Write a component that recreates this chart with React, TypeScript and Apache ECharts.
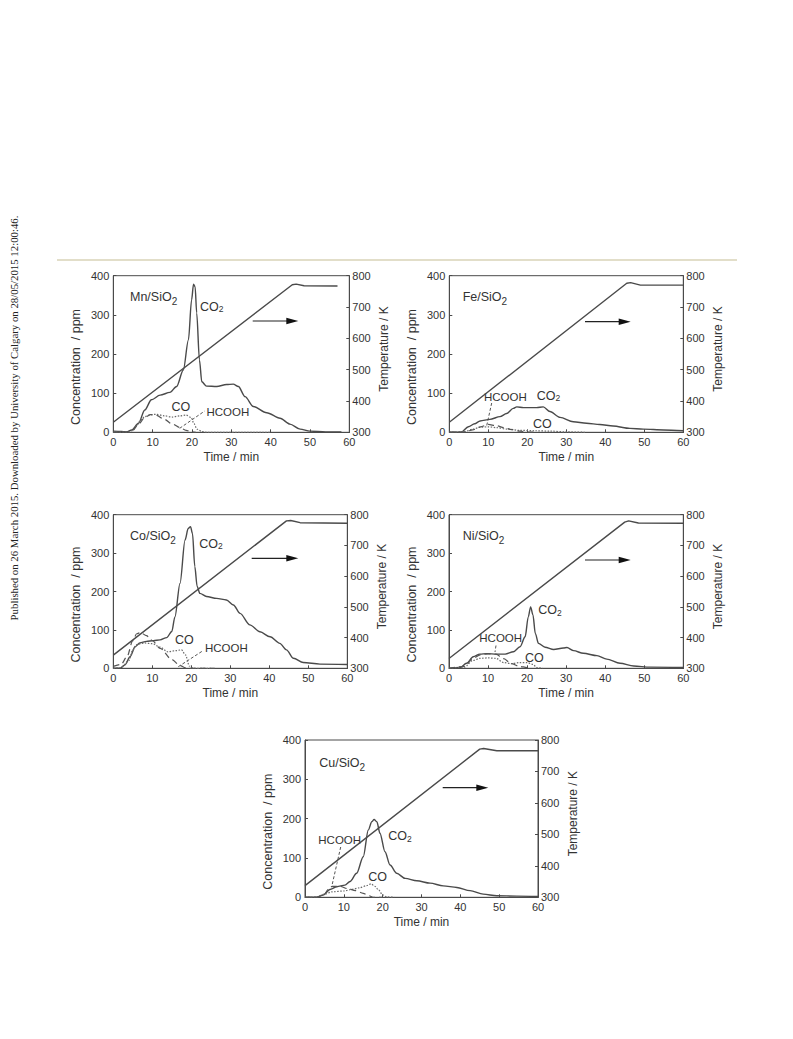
import React, { useEffect, useRef } from "react";
import * as echarts from "echarts";

// ---------- data (time / min, value) ----------
const mnCO2 = [[0,3],[2,2],[3.4,1],[4.7,6],[6.4,23],[8,57],[9.7,83],[11.9,95],[14.4,102],[16.1,117],[17.8,159],[19.1,236],[19.9,338],[20.4,378],[20.8,372],[21.2,305],[21.9,185],[22.5,129],[23.7,118],[26.3,117],[28.8,122],[30.5,123],[31.8,117],[33.5,91],[35.6,66],[39,50],[42.4,36],[44.9,21],[47.5,8],[50,3],[54,1],[58,1]];
const mnCO = [[0,0],[4,1],[5,5],[6,18],[7,32],[8,40],[9.5,45],[11,46],[13,42],[15,39],[17,42],[18.5,44],[19.8,38],[20.5,22],[21.3,8],[22.5,2],[24,0],[40,0]];
const mnHCOOH = [[0,0],[4,1],[5,6],[6.5,22],[8,38],[9.5,45],[11,43],[13,33],[15,21],[17,12],[18.5,5],[20,1],[21,0]];
const mnTemp = [[0,332],[45.5,771],[46.5,773],[48.5,768],[57,767]];

const feCO2 = [[0,0],[3,0],[4.9,14],[6.5,22],[7.9,29],[10.4,33],[13,40],[14.7,48],[16.4,61],[17.3,65],[19,63],[22.4,63],[24.1,65],[25.8,53],[28.4,38],[31.8,27],[35.2,23],[38.6,20],[42,16],[46.3,10],[49.7,8],[55,6],[60,4]];
const feCO = [[0,0],[4,2],[6,8],[8,13],[10,14],[12,12],[15,8],[18,5],[22,4],[26,3],[30,1],[35,0]];
const feHCOOH = [[0,0],[4,1],[6,6],[8,14],[10,20],[12,17],[14,12],[16,7],[18,3],[20,1],[22,0]];
const feTemp = [[0,332],[45.5,776],[46.5,778],[49,770],[60,770]];

const coCO2 = [[0,0],[1.7,0],[3,9],[4.3,30],[5.6,56],[6.8,66],[8.5,70],[10.3,72],[12,74],[13.7,80],[15,96],[15.8,134],[17.1,221],[18.4,334],[19.2,364],[19.8,369],[20.3,351],[20.9,265],[21.5,213],[22.2,195],[23.9,187],[26.5,182],[29,178],[30.8,165],[32.5,143],[35,113],[37.6,95],[40.2,82],[42.7,65],[44.4,48],[46.2,26],[48.7,15],[53,11],[60,10]];
const coCO = [[0,0],[2,2],[4,20],[5,48],[6,62],[8,66],[10,64],[12,55],[14,43],[16,46],[17.5,48],[18.5,35],[19.5,6],[20.5,0],[25,0]];
const coHCOOH = [[0,5],[2,10],[3.5,30],[5,72],[6,90],[7,93],[8.5,85],[10,72],[12,52],[15,23],[17,8],[18.5,1],[19.5,0],[26,0]];
const coTemp = [[0,343],[44.4,780],[45.5,781],[47.9,774],[60,772]];

const niCO2 = [[0,0],[2.8,2],[4.5,13],[6.2,30],[7.9,37],[9.7,38],[12.2,37],[14.4,37],[16.5,43],[18.2,56],[19.5,82],[20.3,134],[20.9,160],[21.5,139],[22.1,91],[22.9,65],[24.6,55],[26.8,49],[29.3,53],[30.2,54],[31.9,46],[34.4,39],[37.9,33],[40.4,24],[43.8,13],[47.3,6],[51.5,3],[60,2]];
const niCO = [[0,0],[4,3],[6,20],[8,26],[10,27],[12,26],[14,15],[16,12],[18,15],[20,15],[21.5,10],[22.5,2],[24,0]];
const niHCOOH = [[0,0],[4,5],[6,25],[8,35],[10,38],[12,37],[14,25],[16,12],[18,5],[20,2],[21,0]];
const niTemp = [[0,332],[45,776],[46,780],[48.5,773],[60,772]];

const cuCO2 = [[0,0],[3,0],[4.7,6],[6.4,20],[8.2,27],[10.3,31],[11.6,40],[13.3,61],[15,103],[16.3,171],[17.2,192],[17.8,198],[18.5,192],[19.3,163],[20.6,116],[21.9,82],[23.6,61],[25.8,48],[28.8,42],[32.2,36],[35.6,29],[39.1,25],[42.5,17],[45.9,8],[49.4,4],[54.5,3],[60,2]];
const cuCO = [[0,0],[3,1],[5,8],[7,14],[10,16],[12,20],[14,24],[16,30],[17,34],[18,28],[19,18],[20,6],[21,1],[23,0]];
const cuHCOOH = [[0,0],[3,0],[5,8],[6,20],[7,28],[9,28],[11,22],[13,17],[15,10],[16.5,4],[17.5,0],[20,0]];
const cuTemp = [[0,337],[45,771],[46,773],[49.4,766],[60,766]];

const catalysts = ["Mn", "Fe", "Co", "Ni", "Cu"];
const xTitle = "Time / min";
const yLeftTitle = "Concentration  / ppm";
const yRightTitle = "Temperature / K";
const sideNote = "Published on 26 March 2015. Downloaded by University of Calgary on 28/05/2015 12:00:46.";

// ---------- layout ----------
const FONT = "'Liberation Sans', Arial, Helvetica, sans-serif";
const INK = "#4a4a4a";
const TXT = "#333";

type Pt = [number, number];
interface Panel {
  name: string;
  grid: [number, number, number, number];
  co2: number[][]; co: number[][]; hcooh: number[][]; temp: number[][];
  cat: Pt; co2Lbl: Pt; coLbl: Pt; hLbl: Pt;
  arrow: [number, number, number];
  leader: [number, number, number, number];
}

const panels: Panel[] = [
  { name: catalysts[0], grid: [113.3, 275.7, 236, 156.6], co2: mnCO2, co: mnCO, hcooh: mnHCOOH, temp: mnTemp,
    cat: [130, 297], co2Lbl: [200, 307], coLbl: [171.5, 407], hLbl: [206.5, 412], arrow: [252.7, 298.3, 321], leader: [179.7, 428.3, 204.7, 411] },
  { name: catalysts[1], grid: [449.3, 275.7, 234, 156.6], co2: feCO2, co: feCO, hcooh: feHCOOH, temp: feTemp,
    cat: [462.7, 297], co2Lbl: [536.7, 396], coLbl: [533, 424], hLbl: [484, 397], arrow: [585, 630.7, 321.7], leader: [491.7, 403, 486.7, 425.7] },
  { name: catalysts[2], grid: [113.3, 514.7, 234, 153.6], co2: coCO2, co: coCO, hcooh: coHCOOH, temp: coTemp,
    cat: [130, 536.7], co2Lbl: [199.3, 544], coLbl: [175, 640], hLbl: [205, 648], arrow: [251.7, 298.3, 558.3], leader: [178.3, 666.7, 203.3, 650.5] },
  { name: catalysts[3], grid: [449, 514.7, 234.3, 153.6], co2: niCO2, co: niCO, hcooh: niHCOOH, temp: niTemp,
    cat: [462.7, 536.7], co2Lbl: [538.3, 610.8], coLbl: [525, 658.3], hLbl: [479.3, 638.3], arrow: [585, 630.7, 560], leader: [496, 645.5, 495, 652] },
  { name: catalysts[4], grid: [305, 740, 233, 157.3], co2: cuCO2, co: cuCO, hcooh: cuHCOOH, temp: cuTemp,
    cat: [319.3, 763.3], co2Lbl: [388.3, 836.7], coLbl: [368.3, 876.7], hLbl: [318.3, 840], arrow: [442.7, 488.3, 787.7], leader: [340.7, 847, 331.7, 886.7] },
];

const subRich = {
  m: { fontSize: 12.5, fontFamily: FONT, color: TXT, lineHeight: 14, verticalAlign: "top" },
  s: { fontSize: 10, fontFamily: FONT, color: TXT, lineHeight: 10, padding: [6, 0, 0, 0], verticalAlign: "top" },
  m2: { fontSize: 12.5, fontFamily: FONT, color: TXT, lineHeight: 14, verticalAlign: "top" },
  s2: { fontSize: 8.5, fontFamily: FONT, color: TXT, lineHeight: 8.5, padding: [4.5, 0, 0, 0], verticalAlign: "top" },
};

function txt(x: number, y: number, text: string, size = 12.5): any {
  return { type: "text", x, y, silent: true,
    style: { text, fontSize: size, fontFamily: FONT, fill: TXT, align: "left", verticalAlign: "middle" } };
}
function richTxt(x: number, y: number, text: string): any {
  return { type: "text", x, y, silent: true,
    style: { text, rich: subRich, fill: TXT, align: "left", verticalAlign: "middle" } };
}

function buildOption() {
  const grid: any[] = [], xAxis: any[] = [], yAxis: any[] = [], series: any[] = [];
  const graphic: any[] = [];
  const axisCommon = {
    axisLine: { show: true, lineStyle: { color: INK, width: 1 } },
    axisTick: { show: true, inside: true, length: 3, lineStyle: { color: INK } },
    splitLine: { show: false },
    axisLabel: { color: TXT, fontSize: 11, fontFamily: FONT },
    nameTextStyle: { color: TXT, fontSize: 12, fontFamily: FONT },
  };
  panels.forEach((p, i) => {
    grid.push({ left: p.grid[0], top: p.grid[1], width: p.grid[2], height: p.grid[3], show: true, borderColor: INK, borderWidth: 1 });
    xAxis.push({ ...axisCommon, gridIndex: i, type: "value", min: 0, max: 60, interval: 10,
      name: xTitle, nameLocation: "middle", nameGap: 19,
      axisLabel: { ...axisCommon.axisLabel, margin: 4 } });
    yAxis.push({ ...axisCommon, gridIndex: i, type: "value", position: "left", min: 0, max: 400, interval: 100,
      name: yLeftTitle, nameLocation: "middle", nameRotate: 90, nameGap: 31,
      nameTextStyle: { ...axisCommon.nameTextStyle, fontSize: 12.5, padding: [0, 26, 0, 0] },
      axisLabel: { ...axisCommon.axisLabel, margin: 4 } });
    yAxis.push({ ...axisCommon, gridIndex: i, type: "value", position: "right", min: 300, max: 800, interval: 100,
      name: yRightTitle, nameLocation: "middle", nameRotate: 90, nameGap: 29,
      nameTextStyle: { ...axisCommon.nameTextStyle, padding: [0, 0, 0, 10] },
      axisLabel: { ...axisCommon.axisLabel, margin: 3 } });
    const base = { type: "line", xAxisIndex: i, showSymbol: false, symbol: "none", silent: true, animation: false };
    series.push({ ...base, name: `${p.name} CO2`, yAxisIndex: 2 * i, data: p.co2, smooth: 0.3, smoothMonotone: "x",
      lineStyle: { color: INK, width: 1.4 } });
    series.push({ ...base, name: `${p.name} CO`, yAxisIndex: 2 * i, data: p.co, smooth: 0.3, smoothMonotone: "x",
      lineStyle: { color: "#6a6a6a", width: 1.2, type: [1.5, 1.5] } });
    series.push({ ...base, name: `${p.name} HCOOH`, yAxisIndex: 2 * i, data: p.hcooh, smooth: 0.3, smoothMonotone: "x",
      lineStyle: { color: "#555", width: 1.2, type: [6, 4] } });
    series.push({ ...base, name: `${p.name} T`, yAxisIndex: 2 * i + 1, data: p.temp,
      lineStyle: { color: INK, width: 1.4 } });

    graphic.push(richTxt(p.cat[0], p.cat[1], `{m|${p.name}/SiO}{s|2}`));
    graphic.push(richTxt(p.co2Lbl[0], p.co2Lbl[1], `{m2|CO}{s2|2}`));
    graphic.push(txt(p.coLbl[0], p.coLbl[1], "CO"));
    graphic.push(txt(p.hLbl[0], p.hLbl[1], "HCOOH", 11.5));
    const [ax1, ax2, ay] = p.arrow;
    graphic.push({ type: "line", silent: true, shape: { x1: ax1, y1: ay, x2: ax2 - 8, y2: ay }, style: { stroke: "#222", lineWidth: 1.2 } });
    graphic.push({ type: "polygon", silent: true, shape: { points: [[ax2 - 12, ay - 3.2], [ax2, ay], [ax2 - 12, ay + 3.2]] }, style: { fill: "#111" } });
    const [l1, l2, l3, l4] = p.leader;
    graphic.push({ type: "line", silent: true, shape: { x1: l1, y1: l2, x2: l3, y2: l4 }, style: { stroke: "#555", lineWidth: 1, lineDash: [3, 2] } });
  });

  graphic.push({ type: "line", silent: true, shape: { x1: 57, y1: 260, x2: 737, y2: 260 }, style: { stroke: "#e2dec9", lineWidth: 2 } });
  graphic.push({ type: "text", silent: true, x: 13.5, y: 418, rotation: Math.PI / 2,
    style: { text: sideNote, fontSize: 10.8, fontFamily: "'Liberation Serif', 'Times New Roman', serif", fill: "#222", align: "center", verticalAlign: "middle" } });

  return { animation: false, backgroundColor: "#fff", grid, xAxis, yAxis, series, graphic };
}

export default function App() {
  const ref = useRef<HTMLDivElement>(null);
  useEffect(() => {
    if (!ref.current) return;
    const chart = echarts.init(ref.current, undefined, { renderer: "svg" });
    chart.setOption(buildOption() as any);
    return () => chart.dispose();
  }, []);
  return <div ref={ref} style={{ position: "absolute", left: 0, top: 0, width: 793, height: 1039 }} />;
}
